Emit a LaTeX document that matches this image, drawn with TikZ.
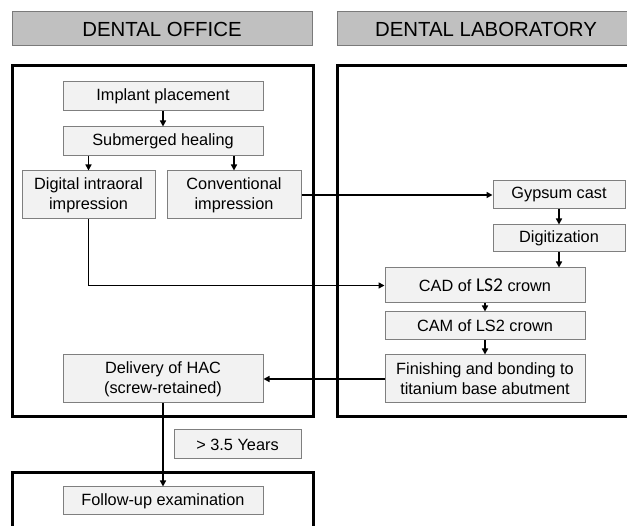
\documentclass[tikz,border=0pt]{standalone}
\usepackage{fontspec}
\setmainfont{Liberation Sans}
\newfontfamily\carlitofont{Carlito}
\usetikzlibrary{arrows.meta,calc}
\definecolor{nodefill}{HTML}{F2F2F2}
\definecolor{nodeline}{HTML}{7F7F7F}
\definecolor{headfill}{HTML}{C0C0C0}
\definecolor{headline}{HTML}{7A7A7A}
\tikzset{
  stepbox/.style={draw=nodeline, fill=nodefill, line width=1pt, inner sep=0pt,
    align=center, font=\fontsize{16.3}{20}\selectfont},
  headbox/.style={draw=headline, fill=headfill, line width=1pt, inner sep=0pt,
    font=\fontsize{20.4}{22}\selectfont},
  bigbox/.style={draw=black, line width=3pt},
  arr/.style={draw=black, line width=1.5pt, -{Triangle[length=6pt,width=6pt]}},
  conn/.style={draw=black, line width=1.5pt}
}
\begin{document}
\begin{tikzpicture}[x=1pt,y=-1pt]
\useasboundingbox (0,0) rectangle (627,526);
\clip (0,0) rectangle (627,526);
\fill[white] (0,0) rectangle (627,526);
% headers
\node[headbox, minimum width=300pt, minimum height=34pt] (hoffice) at (162,29) {DENTAL OFFICE};
\node[headbox, minimum width=310pt, minimum height=34pt, anchor=west] (hlab) at (337,29) {};
\node[font=\fontsize{20.4}{22}\selectfont, anchor=center] (hlabtxt) at (486,29) {DENTAL LABORATORY};
% big boxes
\coordinate (lboxa) at (12,66);
\coordinate (lboxb) at (313,417);
\coordinate (rboxa) at (337,66);
\coordinate (rboxb) at (660,417);
\coordinate (bboxa) at (12,473);
\coordinate (bboxb) at (313,560);
\draw[bigbox] (lboxa) rectangle (lboxb);
\draw[bigbox] (rboxa) rectangle (rboxb);
\draw[bigbox] (bboxa) rectangle (bboxb);
% nodes
\node[stepbox, minimum width=200pt, minimum height=29pt] (implant) at (163,96.5) {Implant placement};
\node[stepbox, minimum width=200pt, minimum height=29pt] (healing) at (163,141.5) {Submerged healing};
\node[stepbox, minimum width=133pt, minimum height=48pt] (digital) at (88.5,195) {Digital intraoral\\impression};
\node[stepbox, minimum width=134pt, minimum height=48pt] (conv) at (234,195) {Conventional\\impression};
\node[stepbox, minimum width=132pt, minimum height=28pt] (gypsum) at (559,195) {Gypsum cast};
\node[stepbox, minimum width=132pt, minimum height=27pt] (digit) at (559,238.5) {Digitization};
\node[stepbox, minimum width=200pt, minimum height=35pt] (cad) at (485,285.5) {CAD of {\carlitofont\fontsize{19.5}{20}\selectfont LS2} crown};
\node[stepbox, minimum width=200pt, minimum height=28pt] (cam) at (485,326) {CAM of LS2 crown};
\node[stepbox, minimum width=200pt, minimum height=48pt] (finish) at (485,379) {Finishing and bonding to\\titanium base abutment};
\node[stepbox, minimum width=200pt, minimum height=48pt] (delivery) at (163,379) {Delivery of HAC\\(screw-retained)};
\node[stepbox, minimum width=127pt, minimum height=29pt] (years) at (237.5,444.5) {> 3.5 Years};
\node[stepbox, minimum width=200pt, minimum height=28pt] (follow) at (163,501) {Follow-up examination};
% connectors
\draw[arr] (implant.south) -- (healing.north);
\draw[arr] (digital.north |- healing.south) -- (digital.north);
\draw[arr] (conv.north |- healing.south) -- (conv.north);
\draw[arr] (conv.east) -- (gypsum.west);
\draw[arr] (gypsum.south) -- (digit.north);
\draw[arr] (digit.south) -- (digit.south |- cad.north);
\draw[arr] (digital.south) |- (cad.west);
\draw[arr] (cad.south) -- (cam.north);
\draw[arr] (cam.south) -- (finish.north);
\draw[arr] (finish.west) -- (delivery.east);
\draw[arr] (delivery.south) -- (follow.north);
\end{tikzpicture}
\end{document}
